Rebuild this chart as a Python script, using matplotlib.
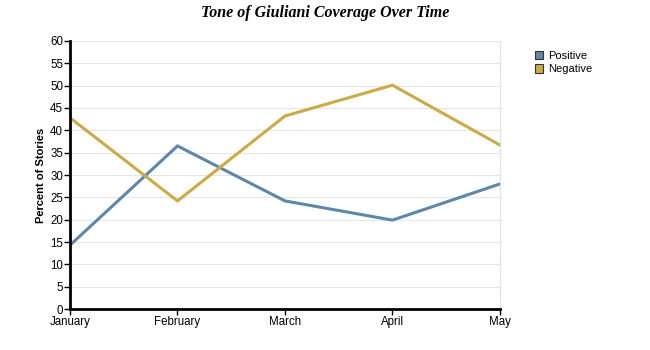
import matplotlib.pyplot as plt
from matplotlib.patches import Patch

plt.rcParams['font.family'] = ['Liberation Sans', 'DejaVu Sans']

months = ['January', 'February', 'March', 'April', 'May']
positive = [14.3, 36.5, 24.2, 19.9, 28.0]
negative = [42.8, 24.2, 43.2, 50.1, 36.7]
pos_color = '#5f87a8'
neg_color = '#c9ab48'

fig = plt.figure(figsize=(6.5, 3.5), dpi=100)
ax = fig.add_axes([0.1077, 0.117, 0.6615, 0.766])

x = range(len(months))
ax.plot(x, positive, color=pos_color, lw=2.2, solid_joinstyle='miter')
ax.plot(x, negative, color=neg_color, lw=2.2, solid_joinstyle='miter')

ax.set_xlim(0, len(months) - 1)
ax.set_ylim(0, 60)
ax.set_xticks(list(x))
ax.set_xticklabels(months)
ax.set_yticks(range(0, 61, 5))
ax.grid(axis='y', color='#e6e6e6', lw=0.8)
ax.set_axisbelow(True)

ax.spines['top'].set_visible(False)
ax.spines['right'].set_color('#e0e0e0')
ax.spines['right'].set_linewidth(0.8)
ax.spines['left'].set_linewidth(2)
ax.spines['bottom'].set_linewidth(2)
ax.tick_params(axis='both', labelsize=8.3, length=4, width=1, color='black', pad=1)

ax.set_ylabel('Percent of Stories', fontsize=8, fontweight='bold', labelpad=3)
fig.suptitle('Tone of Giuliani Coverage Over Time', x=0.5, y=0.985,
             fontsize=11.5, fontweight='bold', fontstyle='italic', family='Liberation Serif')

# square swatches in the legend instead of line samples
handles = [Patch(facecolor=pos_color, edgecolor='#333333', lw=0.8),
           Patch(facecolor=neg_color, edgecolor='#333333', lw=0.8)]
ax.legend(handles, ['Positive', 'Negative'], loc='upper left', bbox_to_anchor=(1.07, 0.98),
          frameon=False, fontsize=8, handlelength=0.8, handleheight=0.8,
          handletextpad=0.4, labelspacing=0.3, borderaxespad=0)

fig.savefig('out.png', dpi=100)
